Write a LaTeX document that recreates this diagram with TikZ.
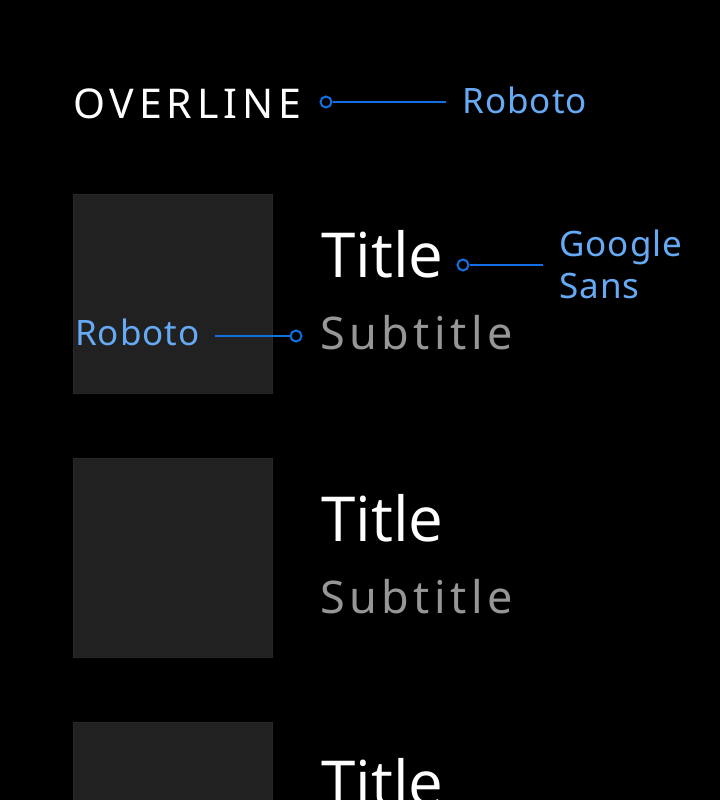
\documentclass[tikz,border=0pt]{standalone}
\usepackage{fontspec}
\setmainfont{Noto Sans}
\newfontfamily\gsansfont{Open Sans}
\usetikzlibrary{positioning}

\definecolor{speclabel}{RGB}{102,170,245}
\definecolor{specline}{RGB}{18,112,228}
\definecolor{thumbfill}{RGB}{33,33,33}
\definecolor{thumbedge}{RGB}{40,40,40}
\definecolor{subgray}{RGB}{150,150,150}

\begin{document}
\begin{tikzpicture}[x=1pt,y=-1pt,
    thumbbox/.style={fill=thumbfill, draw=thumbedge, line width=1pt,
        minimum size=199pt, inner sep=0pt, anchor=north west},
    overtext/.style={text=white, anchor=base west, inner sep=0pt,
        font=\fontsize{41}{41}\selectfont\addfontfeature{LetterSpace=12}},
    titletext/.style={text=white, anchor=base west, inner sep=0pt,
        font=\gsansfont\fontsize{62}{62}\selectfont},
    subtext/.style={text=subgray, anchor=base west, inner sep=0pt,
        font=\fontsize{45}{45}\selectfont\addfontfeature{LetterSpace=10}},
    spectext/.style={text=speclabel, inner sep=0pt,
        font=\fontsize{35}{42}\selectfont\addfontfeature{LetterSpace=3}},
    pin/.style={specline, line width=2pt},
    pindot/.style={circle, draw=specline, line width=2pt,
        minimum size=11pt, inner sep=0pt}
  ]
  \useasboundingbox (0,0) rectangle (720,800);
  \fill[black] (0,0) rectangle (720,800);
  \clip (0,0) rectangle (720,800);

  \node[overtext] (overline) at (73,118) {OVERLINE};

  \foreach \i/\y in {1/194, 2/458, 3/722} {
    \node[thumbbox] (thumb\i) at (72.5,\y) {};
    \node[titletext] (title\i) at (321,\y+83) {Title};
  }
  \foreach \i/\y in {1/194, 2/458} {
    \node[subtext] (subtitle\i) at (320,\y+155) {Subtitle};
  }

  % overline spec
  \node[pindot] (dotover) at (326,102) {};
  \coordinate (endover) at (446,102);
  \node[spectext, anchor=base west] (fontover) at (462,113) {Roboto};
  \draw[pin] (dotover) -- (endover);

  % title spec
  \node[pindot] (dottitle) at (463,265) {};
  \coordinate (endtitle) at (543,265);
  \node[spectext, anchor=west, align=left] (fonttitle) at (559,264) {Google\\Sans};
  \draw[pin] (dottitle) -- (endtitle);

  % subtitle spec
  \node[pindot] (dotsub) at (296,336) {};
  \coordinate (endsub) at (215,336);
  \node[spectext, anchor=base east] (fontsub) at (200,345) {Roboto};
  \draw[pin] (dotsub) -- (endsub);
\end{tikzpicture}
\end{document}
